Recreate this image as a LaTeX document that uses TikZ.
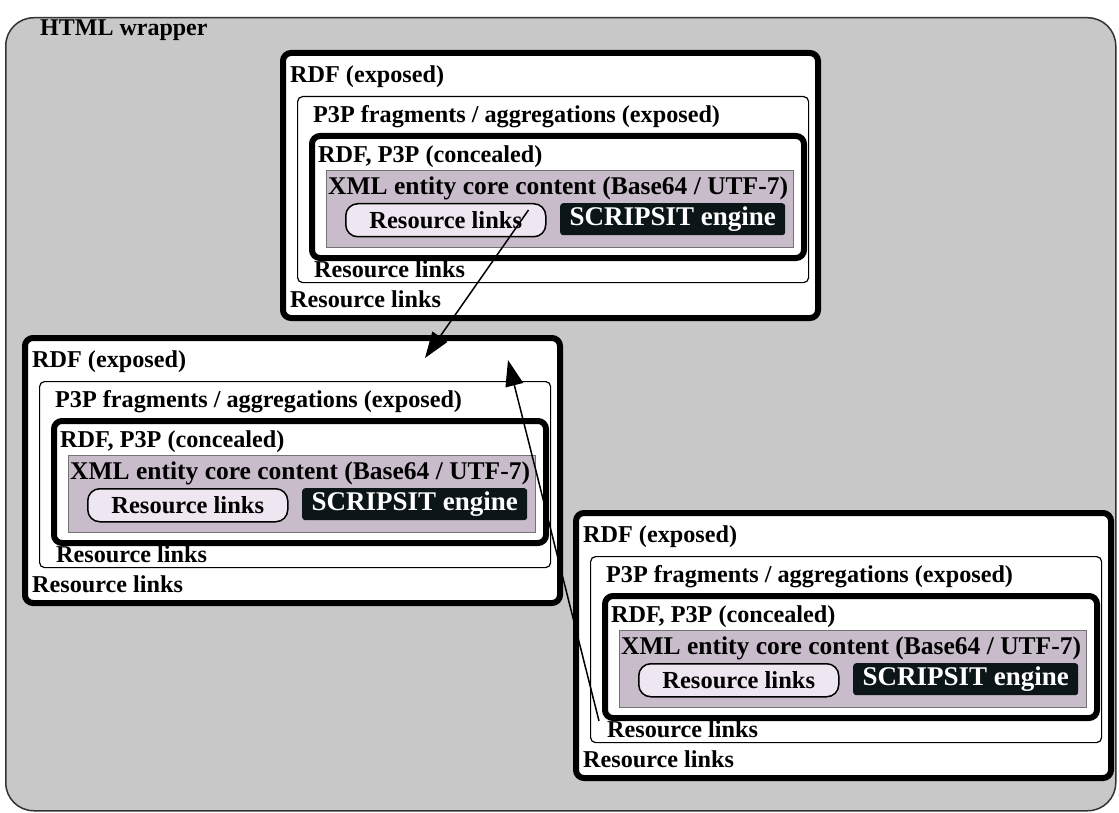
\documentclass[tikz,border=0pt]{standalone}
\usepackage{fontspec}
\setmainfont{Liberation Serif}
\usetikzlibrary{calc,arrows.meta}

\definecolor{wrapfill}{RGB}{200,200,200}
\definecolor{xmlfill}{RGB}{200,188,202}
\definecolor{pillfill}{RGB}{238,230,240}
\definecolor{enginefill}{RGB}{12,22,24}

\tikzset{
  wrapbox/.style={draw=black!80, line width=1.5pt, fill=wrapfill, rounded corners=28pt,
    anchor=north west, inner sep=0pt},
  thickbox/.style={draw=black, line width=6pt, fill=white, rounded corners=8pt,
    anchor=north west, inner sep=0pt},
  thinbox/.style={draw=black, line width=1.2pt, fill=white, rounded corners=5pt,
    anchor=north west, inner sep=0pt},
  xmlbox/.style={draw=black!55, line width=1pt, fill=xmlfill,
    anchor=north west, inner sep=0pt},
  linkpill/.style={draw=black, line width=1.5pt, fill=pillfill, rounded corners=12pt,
    anchor=north west, inner sep=0pt, font=\fontsize{24.5}{27}\selectfont\bfseries},
  enginebox/.style={fill=enginefill, text=white, rounded corners=3pt,
    anchor=north west, inner sep=0pt, font=\fontsize{27}{30}\selectfont\bfseries},
  lbl/.style={anchor=west, inner sep=0pt, font=\fontsize{24.2}{27}\selectfont\bfseries},
  link/.style={draw=black, line width=1.5pt, -{Triangle[length=26pt,width=18pt]}},
}

% one RDF group: #1 name, #2 x, #3 y
\newcommand{\rdfgroup}[3]{%
\begin{scope}[shift={(#2,#3)}]
  \node[thickbox, minimum width=535pt, minimum height=265pt] (#1-rdf) at (0,0) {};
  \node[lbl] (#1-rdftxt) at (10,27) {RDF (exposed)};
  \node[thinbox, minimum width=511pt, minimum height=186pt] (#1-p3p) at (17,46) {};
  \node[lbl] (#1-p3ptxt) at (33,67) {P3P fragments / aggregations (exposed)};
  \node[thickbox, minimum width=492pt, minimum height=122pt] (#1-conc) at (29,83) {};
  \node[lbl] (#1-conctxt) at (38,107) {RDF, P3P (concealed)};
  \node[xmlbox, minimum width=467pt, minimum height=77pt] (#1-xml) at (46,120) {};
  \node[lbl, font=\fontsize{25.5}{28}\selectfont\bfseries] (#1-xmltxt) at (48,138)
    {XML entity core content (Base64 / UTF-7)};
  \node[linkpill, minimum width=200pt, minimum height=33pt] (#1-pill) at (65,153) {Resource links};
  \node[enginebox, minimum width=225pt, minimum height=32pt] (#1-eng) at (280,153) {SCRIPSIT engine};
  \node[lbl] (#1-links2) at (34,219) {Resource links};
  \node[lbl] (#1-links1) at (10,249) {Resource links};
  \coordinate (#1-ina) at (403,23);
  \coordinate (#1-inb) at (486,25);
\end{scope}}

\begin{document}
\begin{tikzpicture}[x=1pt, y=-1pt]
  \useasboundingbox (0,0) rectangle (1119,813);
  \node[wrapbox, minimum width=1110pt, minimum height=793pt] (html) at (5,17) {};
  \node[lbl, font=\fontsize{24}{26}\selectfont\bfseries] (htmltxt) at (40,30) {HTML wrapper};

  \rdfgroup{top}{280}{50}
  \rdfgroup{mid}{22}{335}
  \rdfgroup{bot}{573}{510}

  \draw[link] ($(top-pill.north east)+(-18,7)$) -- (mid-ina);
  \draw[link] ($(bot-links2.west)+(-8,-8)$) -- (mid-inb);
\end{tikzpicture}
\end{document}
